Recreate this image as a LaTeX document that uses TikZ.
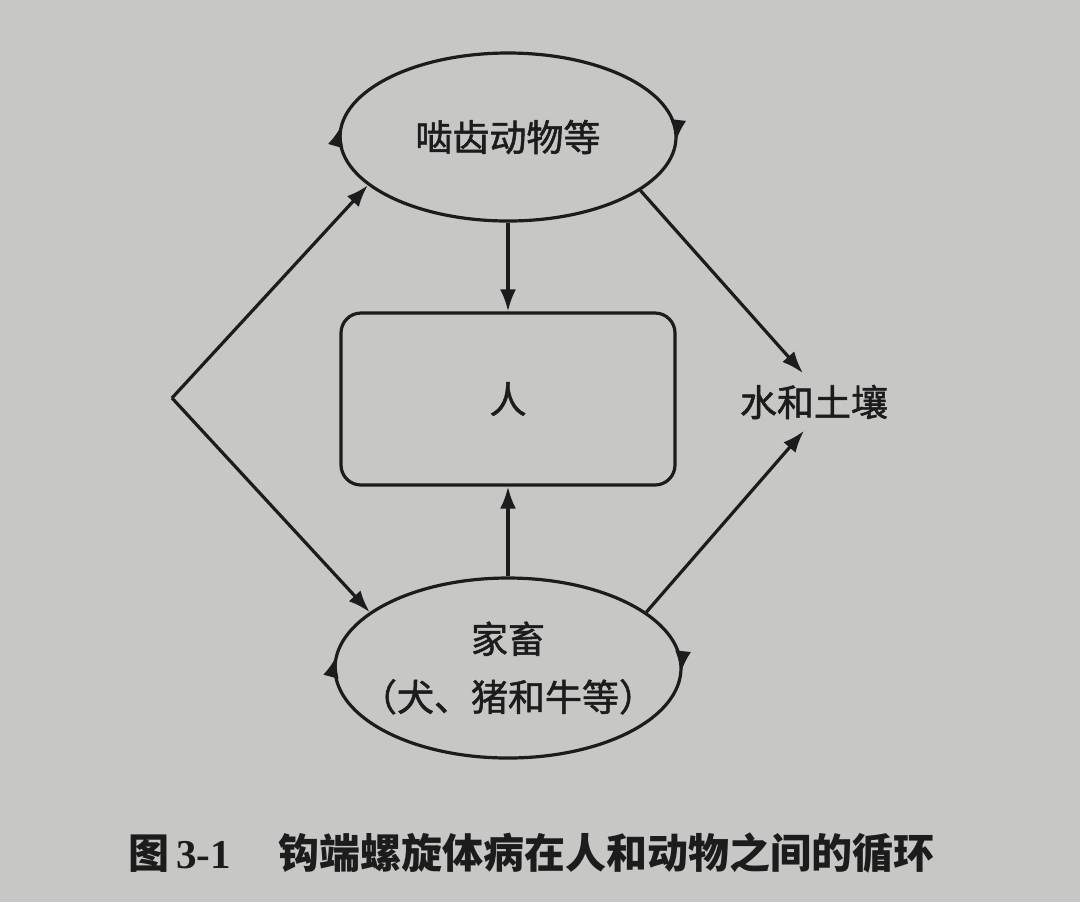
\documentclass[tikz,border=0pt]{standalone}
\usepackage{fontspec}
\setmainfont{Noto Sans CJK SC}
\newfontfamily\hostfont{Noto Sans CJK SC}[FakeBold=1.4]
\newfontfamily\numfont{Liberation Serif}
\usetikzlibrary{arrows.meta,shapes.geometric,decorations.markings}
\definecolor{paper}{RGB}{199,199,197}
\definecolor{ink}{RGB}{28,28,28}

\begin{document}
\begin{tikzpicture}[x=0.5pt,y=-0.5pt,line width=1.6pt,
  tip/.style={draw=ink,-{Latex[length=11pt,width=8pt]}},
  host/.style={ellipse,draw=ink,inner sep=0pt,inner xsep=-16pt,text=ink},
  turn/.style={decorate,decoration={markings,
      mark=at position 0.006 with {\arrow[ink]{Latex[length=11pt,width=8pt]}},
      mark=at position 0.515 with {\arrow[ink]{Latex[length=11pt,width=8pt]}}}},
  lbl/.style={text=ink,font=\hostfont\fontsize{18.5}{29}\selectfont}]

  \fill[paper] (0,0) rectangle (1080,902);

  % hosts and man
  \node[host,lbl,minimum width=168pt,minimum height=84pt] (rodent) at (508,137) {啮齿动物等};
  \node[host,lbl,minimum width=173pt,minimum height=90pt,align=center] (stock) at (508,668)
     {家畜\\（犬、猪和牛等）};
  \node[lbl,draw=ink,rounded corners=10pt,minimum width=167pt,minimum height=86pt] (man) at (508,399) {人};
  \node[lbl,inner sep=5pt] (soil) at (814,402) {水和土壤};
  \coordinate (fork) at (172,398);

  % heads on the loops
  \path[turn] (rodent.center) ellipse [x radius=168, y radius=84];
  \path[turn] (stock.center) ellipse [x radius=173, y radius=90];

  \draw[tip] (fork) -- (rodent.199);
  \draw[tip] (fork) -- (stock.158);
  \draw[tip] (rodent.south) -- (man.north);
  \draw[tip] (stock.north) -- (man.south);
  \draw[tip] (rodent.338) -- ([xshift=-5.5pt]soil.north);
  \draw[tip] (stock.22) -- ([xshift=-5pt]soil.south);

  \node[anchor=west,text=ink,font=\fontsize{20.5}{24}\selectfont\bfseries] (caption) at (120,853)
     {图\,{\numfont 3-1}\hspace{24pt}钩端螺旋体病在人和动物之间的循环};

\end{tikzpicture}
\end{document}
